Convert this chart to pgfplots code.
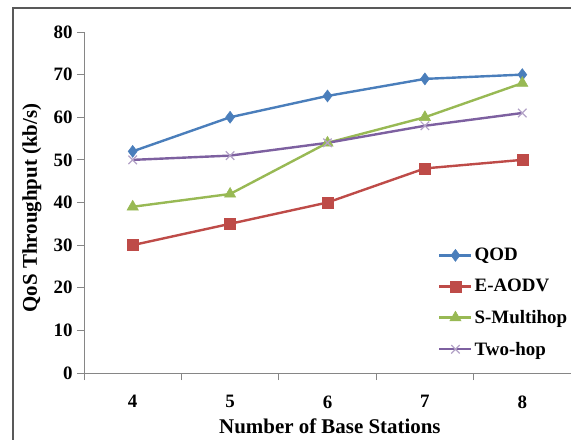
\documentclass[border=0pt]{standalone}
\usepackage{pgfplots}
\pgfplotsset{compat=1.18}
\usepackage{fontspec}
\setmainfont{Liberation Serif}
\definecolor{cqod}{HTML}{4A7EBB}
\definecolor{caodv}{HTML}{BE4B48}
\definecolor{cmulti}{HTML}{98B954}
\definecolor{ctwo}{HTML}{7D60A0}
\definecolor{ctwomark}{HTML}{B3A2C7}
\definecolor{axgray}{HTML}{868686}
\begin{document}
\begin{tikzpicture}
\useasboundingbox (0,0) rectangle (571bp,440bp);
\draw[color=black!65, line width=2bp] (13bp,-5bp) -- (13bp,432bp) -- (580bp,432bp);
\begin{axis}[
  at={(84bp,67bp)}, anchor=origin,
  scale only axis, width=487bp, height=341bp,
  xmin=3.5, xmax=8.5, ymin=0, ymax=80,
  axis x line=bottom, axis y line=left,
  axis line style={draw=axgray, line width=1bp, -},
  xtick={4,5,6,7,8},
  minor xtick={3.5,4.5,5.5,6.5,7.5,8.5},
  major x tick style={draw=none},
  minor x tick style={draw=axgray, line width=0.8bp},
  ytick={0,10,...,80},
  y tick style={draw=axgray, line width=0.8bp},
  tick align=outside,
  major tick length=7bp, minor tick length=7bp,
  /pgf/number format/assume math mode=true,
  ticklabel style={font=\fontsize{19}{20}\selectfont\bfseries},
  xticklabel style={yshift=-12bp},
  yticklabel style={xshift=-1bp},
  xlabel={Number of Base Stations},
  ylabel={QoS Throughput (kb/s)},
  label style={font=\fontsize{21}{23}\selectfont\bfseries},
  xlabel style={at={(rel axis cs:0.505,-0.155)}, anchor=center},
  ylabel style={at={(rel axis cs:-0.107,0.484)}, anchor=center, rotate=0},
  legend style={draw=none, fill=none, at={(rel axis cs:0.727,0.372)}, anchor=north west,
    font=\fontsize{19}{20}\selectfont\bfseries, row sep=13bp, inner sep=0pt},
  legend cell align=left,
  legend image code/.code={\draw[mark repeat=2,mark phase=2] plot coordinates {(0bp,0bp) (16bp,0bp) (32bp,0bp)};},
  every axis plot/.append style={line width=2.4bp},
  clip=false,
]
\addplot[color=cqod, mark=diamond*, mark size=6bp, mark options={solid, line width=0.5bp}]
  coordinates {(4,52) (5,60) (6,65) (7,69) (8,70)};
\addlegendentry{QOD}
\addplot[color=caodv, mark=square*, mark size=5.5bp, mark options={solid, line width=0.5bp}]
  coordinates {(4,30) (5,35) (6,40) (7,48) (8,50)};
\addlegendentry{E-AODV}
\addplot[color=cmulti, mark=triangle*, mark size=6.5bp, mark options={solid, line width=0.5bp}]
  coordinates {(4,39) (5,42) (6,54) (7,60) (8,68)};
\addlegendentry{S-Multihop}
\addplot[color=ctwo, mark=x, mark size=6bp, mark options={solid, draw=ctwomark, line width=1.2bp}]
  coordinates {(4,50) (5,51) (6,54) (7,58) (8,61)};
\addlegendentry{Two-hop}
\end{axis}
\end{tikzpicture}
\end{document}
